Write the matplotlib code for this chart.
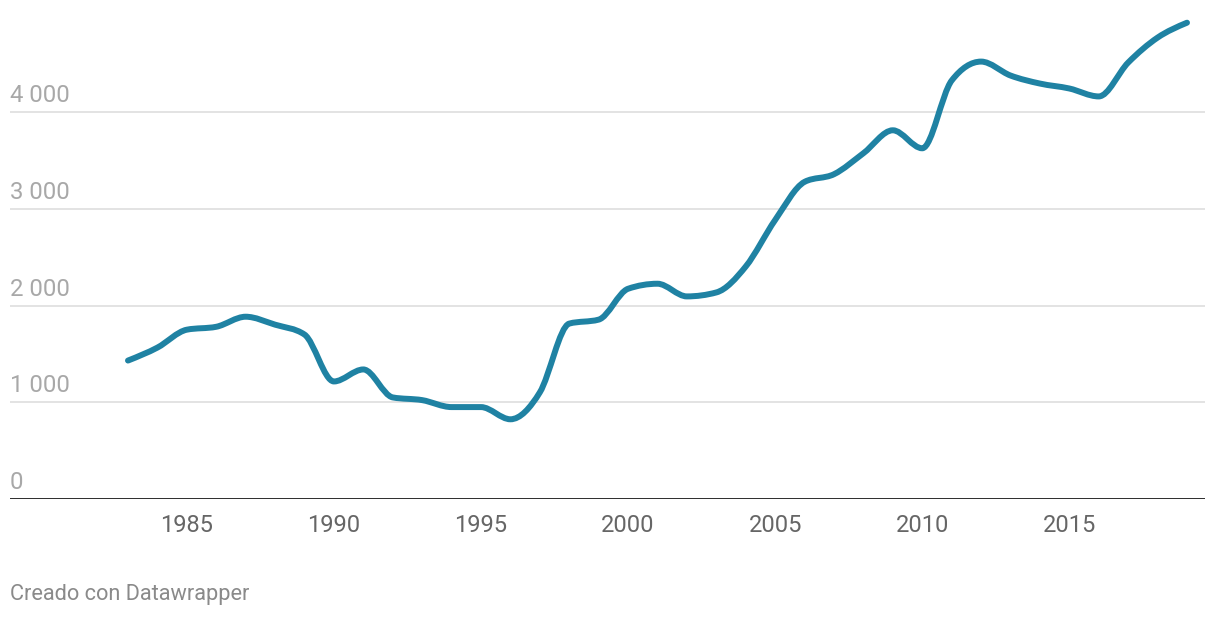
import numpy as np
import matplotlib
matplotlib.use("Agg")
import matplotlib.pyplot as plt
from matplotlib.path import Path
from matplotlib.patches import PathPatch
from matplotlib.transforms import ScaledTranslation

years = list(range(1983, 2020))
values = [1431, 1565, 1750, 1780, 1884, 1802, 1700, 1215, 1339, 1050,
          1022, 950, 950, 824, 1102, 1813, 1854, 2173, 2225, 2094,
          2135, 2403, 2884, 3278, 3357, 3574, 3811, 3625, 4325, 4521,
          4377, 4294, 4243, 4161, 4511, 4769, 4923]
ytick_vals = [0, 1000, 2000, 3000, 4000]
ytick_labels = ["0", "1 000", "2 000", "3 000", "4 000"]
xtick_vals = [1985, 1990, 1995, 2000, 2005, 2010, 2015]

plt.rcParams['font.family'] = ['Roboto', 'DejaVu Sans']


def monotone_path(x, y):
    # monotone cubic (like d3.curveMonotoneX) as bezier segments
    x = np.asarray(x, float)
    y = np.asarray(y, float)
    h = np.diff(x)
    s = np.diff(y) / h
    n = len(x)
    t = np.zeros(n)
    for i in range(1, n - 1):
        s0, s1 = s[i - 1], s[i]
        p = (s0 * h[i] + s1 * h[i - 1]) / (h[i - 1] + h[i])
        t[i] = (np.sign(s0) + np.sign(s1)) * min(abs(s0), abs(s1), 0.5 * abs(p))
    t[0] = (3 * s[0] - t[1]) / 2
    t[-1] = (3 * s[-1] - t[-2]) / 2
    verts = [(x[0], y[0])]
    codes = [Path.MOVETO]
    for i in range(n - 1):
        dx = h[i] / 3
        verts += [(x[i] + dx, y[i] + dx * t[i]),
                  (x[i + 1] - dx, y[i + 1] - dx * t[i + 1]),
                  (x[i + 1], y[i + 1])]
        codes += [Path.CURVE4] * 3
    return Path(verts, codes)


fig = plt.figure(figsize=(12.2, 6.18), dpi=100)
ax = fig.add_axes([10 / 1220, 1 - 499 / 618, 1195 / 1220, 499 / 618])
ax.set_xlim(1983 - 118 / 29.42, 2019 + 18 / 29.42)
ax.set_ylim(0, 499 / 96.75 * 1000)

for v in ytick_vals[1:]:
    ax.axhline(v, color='#e3e3e3', lw=1.4, zorder=1)
ax.axhline(0, color='#1a1a1a', lw=2.0, zorder=3)

ax.add_patch(PathPatch(monotone_path(years, values), facecolor='none',
                       edgecolor='#1f82a3', lw=4.3, capstyle='round',
                       joinstyle='round', zorder=4))

for sp in ax.spines.values():
    sp.set_visible(False)

ax.set_yticks(ytick_vals)
ax.set_yticklabels(ytick_labels)
ax.tick_params(axis='y', length=0, pad=0, labelsize=17.2, labelcolor='#a8a8a8')
off = ScaledTranslation(0, 0.1, fig.dpi_scale_trans)
for lab in ax.get_yticklabels():
    lab.set_horizontalalignment('left')
    lab.set_verticalalignment('baseline')
    lab.set_transform(lab.get_transform() + off)

ax.set_xticks(xtick_vals)
ax.set_xticklabels([str(v) for v in xtick_vals])
ax.tick_params(axis='x', length=0, pad=11, labelsize=17, labelcolor='#666666')

fig.text(10 / 1220, 1 - 600 / 618, "Creado con Datawrapper", fontsize=15.7,
         color='#8a8a8a', ha='left', va='baseline')

fig.savefig("out.png", dpi=100, facecolor='white')
